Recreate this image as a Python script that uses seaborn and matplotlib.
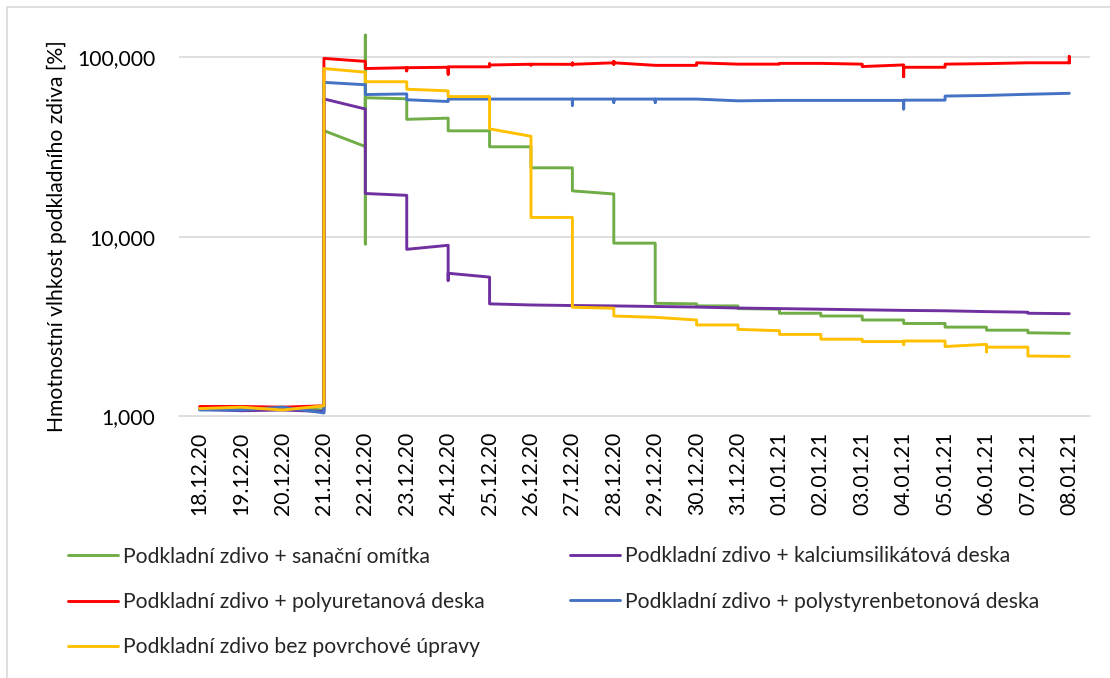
import matplotlib
matplotlib.use("Agg")
import matplotlib.pyplot as plt
import pandas as pd
import seaborn as sns
from matplotlib.patches import Rectangle

dates = ["18.12.20", "19.12.20", "20.12.20", "21.12.20", "22.12.20", "23.12.20",
         "24.12.20", "25.12.20", "26.12.20", "27.12.20", "28.12.20", "29.12.20",
         "30.12.20", "31.12.20", "01.01.21", "02.01.21", "03.01.21", "04.01.21",
         "05.01.21", "06.01.21", "07.01.21", "08.01.21"]

series_names = ["Podkladní zdivo + sanační omítka",
                "Podkladní zdivo + kalciumsilikátová deska",
                "Podkladní zdivo + polyuretanová deska",
                "Podkladní zdivo + polystyrenbetonová deska",
                "Podkladní zdivo bez povrchové úpravy"]

series_colors = ["#70AD47", "#7030A0", "#FF0000", "#4472C4", "#FFC000"]

# values per date (several readings per day)
sanacni = [[1.11], [1.10], [1.12], [1.08, 39.0], [31.8, 133.0, 9.1, 59.5],
           [58.7, 45.1], [45.8, 38.9], [38.9, 31.7], [31.7, 24.2], [24.2, 18.0],
           [17.3, 15.6, 9.2], [9.2, 4.25], [4.22, 4.11], [4.11, 3.97], [3.94, 3.74],
           [3.74, 3.61], [3.61, 3.43], [3.43, 3.28], [3.28, 3.13], [3.13, 3.01],
           [3.01, 2.91], [2.89]]

kalcium = [[1.09], [1.07], [1.08], [1.06, 58.6], [51.5, 17.4], [17.0, 8.5],
           [8.95, 5.7, 6.25], [5.95, 4.22], [4.16], [4.13], [4.11], [4.08], [4.05],
           [4.0], [3.97], [3.94], [3.91], [3.88], [3.86], [3.82], [3.79, 3.74], [3.72]]

polyuretan = [[1.13], [1.13], [1.12], [1.14, 98.6], [94.9, 86.6], [87.5, 84.0, 87.5],
              [88.0, 80.5, 88.5], [88.5, 92.0, 90.6], [91.5, 90.5, 91.5],
              [91.4, 93.0, 90.5, 91.4], [93.2, 95.0, 91.5, 93.2], [90.2],
              [90.2, 93.2], [91.6], [91.6, 92.5], [92.5], [91.6, 88.8],
              [90.7, 78.0, 88.0], [88.0, 91.6], [92.2], [93.2], [93.2, 101.0, 93.0]]

polystyren = [[1.08], [1.08], [1.12], [1.04, 72.5], [70.3, 62.0], [62.5, 58.0],
              [56.7, 58.5], [58.5], [58.5], [58.5, 54.0, 58.5], [58.5, 56.0, 58.5],
              [58.5, 56.0, 58.5], [58.5], [57.2], [57.5], [57.5], [57.5],
              [57.5, 51.5, 57.7], [57.7, 60.8], [61.3], [62.2], [63.0]]

bez_upravy = [[1.10], [1.12], [1.08], [1.14, 86.6], [82.6, 73.1], [73.1, 66.4],
              [65.0, 60.4], [60.4, 39.9], [36.3, 12.8], [12.8, 4.04], [3.99, 3.61],
              [3.55], [3.43, 3.22], [3.22, 3.04], [2.99, 2.85], [2.85, 2.68],
              [2.68, 2.60], [2.60, 2.50, 2.62], [2.62, 2.44], [2.51, 2.28, 2.42],
              [2.42, 2.16], [2.15]]

y_ticks = [1, 10, 100]
y_tick_labels = ["1,000", "10,000", "100,000"]

rows = []
order = 0
for name, vals in zip(series_names, [sanacni, kalcium, polyuretan, polystyren, bez_upravy]):
    for i, day in enumerate(vals):
        for v in day:
            rows.append({"x": i, "y": v, "series": name, "order": order})
            order += 1
df = pd.DataFrame(rows)

sns.set_theme(style="white")
plt.rcParams["font.family"] = ["Lato", "DejaVu Sans"]

FS = 15.2
W, H = 1110, 678
fig = plt.figure(figsize=(W / 100, H / 100), dpi=100)
fig.patch.set_facecolor("white")
ax = fig.add_axes([179 / W, 1 - 416 / H, 911 / W, 386 / H])

sns.lineplot(data=df, x="x", y="y", hue="series", hue_order=series_names,
             palette=series_colors, estimator=None, sort=False, ax=ax,
             linewidth=2.1, legend=False)

ax.set_yscale("log")
ax.set_ylim(1, 142)
ax.set_xlim(-0.5, len(dates) - 0.5)
ax.set_yticks(y_ticks)
ax.set_yticklabels(y_tick_labels)
ax.yaxis.set_minor_locator(matplotlib.ticker.NullLocator())
ax.set_xticks(range(len(dates)))
ax.set_xticklabels(dates, rotation=90)
ax.set_xticks([i - 0.5 for i in range(len(dates) + 1)], minor=True)
ax.tick_params(axis="x", which="major", length=0, pad=11, labelsize=FS, colors="#000000")
ax.tick_params(axis="x", which="minor", length=5, width=1, color="#D9D9D9", direction="out")
ax.tick_params(axis="y", length=0, pad=17, labelsize=FS, colors="#000000")
ax.set_xlabel("")
ax.set_ylabel("")
for s in ["left", "top", "right"]:
    ax.spines[s].set_visible(False)
ax.spines["bottom"].set_color("#D9D9D9")
ax.spines["bottom"].set_linewidth(1.2)
for yv in y_ticks[1:]:
    ax.axhline(yv, color="#D9D9D9", lw=1.2, zorder=0)

fig.text(57 / W, 1 - 236 / H, "Hmotnostní vlhkost podkladního zdiva [%]",
         rotation=90, ha="center", va="center", fontsize=FS, color="#000000")

# chart-area border (left and top edges visible)
fig.add_artist(Rectangle((7 / W, -0.1), 1.2, 1 - 7 / H + 0.1, transform=fig.transFigure,
                         fill=False, edgecolor="#D9D9D9", lw=1.2))

handles = [plt.Line2D([], [], color=c, lw=2.1) for c in series_colors]
col1 = [0, 2, 4]
col2 = [1, 3]
leg_kw = dict(frameon=False, fontsize=FS, handlelength=2.37, handletextpad=0.25,
              borderpad=0, borderaxespad=0, labelspacing=1.2)
fig.legend([handles[i] for i in col1], [series_names[i] for i in col1],
           loc="center left", bbox_to_anchor=(68 / W, 1 - 602 / H), **leg_kw)
fig.legend([handles[i] for i in col2], [series_names[i] for i in col2],
           loc="center left", bbox_to_anchor=(570 / W, 1 - 579 / H), **leg_kw)

fig.savefig("out.png", dpi=100)
